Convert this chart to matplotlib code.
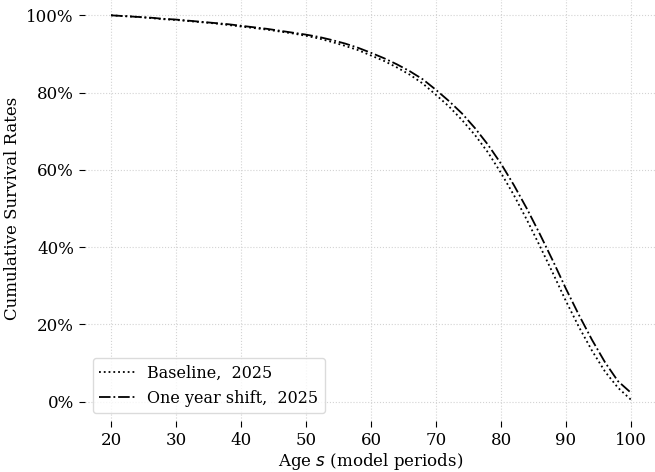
import matplotlib
matplotlib.use("Agg")
import matplotlib.pyplot as plt
from matplotlib.ticker import PercentFormatter

plt.rcParams['font.family'] = ['DejaVu Serif']
plt.rcParams['font.size'] = 12

ages = list(range(20, 101, 2))
baseline = [100.0, 99.8, 99.6, 99.3, 99.0, 98.8, 98.5, 98.2, 97.9, 97.5,
            97.1, 96.7, 96.3, 95.8, 95.3, 94.7, 94.0, 93.1, 92.1, 91.0,
            89.6, 88.2, 86.5, 84.6, 82.3, 79.4, 76.4, 72.9, 69.0, 64.5,
            59.2, 53.4, 47.0, 40.2, 33.2, 26.0, 19.3, 13.2, 7.8, 3.6, 0.5]
shift = [100.0, 99.8, 99.6, 99.4, 99.1, 98.9, 98.6, 98.3, 98.0, 97.7,
         97.3, 96.9, 96.5, 96.0, 95.5, 95.0, 94.4, 93.6, 92.7, 91.6,
         90.3, 88.9, 87.3, 85.5, 83.4, 80.7, 77.8, 74.6, 70.8, 66.5,
         61.6, 56.0, 49.9, 43.3, 36.4, 29.2, 22.4, 16.0, 10.2, 5.3, 2.3]
labels = ['Baseline,  2025', 'One year shift,  2025']

fig = plt.figure(figsize=(6.55, 4.72), dpi=100)
ax = fig.add_axes([85 / 655, 1 - 421 / 472, 572 / 655, 425 / 472])
ax.plot(ages, baseline, ls=':', color='black', lw=1.3, label=labels[0])
ax.plot(ages, shift, ls='-.', color='black', lw=1.3, label=labels[1])

ax.set_xlim(16, 104)
ax.set_ylim(-5, 105)
ax.set_xticks(range(20, 101, 10))
ax.set_yticks(range(0, 101, 20))
ax.yaxis.set_major_formatter(PercentFormatter(100, decimals=0))
ax.grid(True, ls=':', color='lightgray', lw=0.8)
for s in ax.spines.values():
    s.set_visible(False)
ax.tick_params(length=4, pad=4)

ax.set_xlabel('Age $s$ (model periods)', labelpad=1)
ax.set_ylabel('Cumulative Survival Rates')
ax.legend(loc='lower left', framealpha=0.8, edgecolor='lightgray',
          fontsize=11.5, handlelength=2.2)

fig.savefig('out.png', dpi=100)
